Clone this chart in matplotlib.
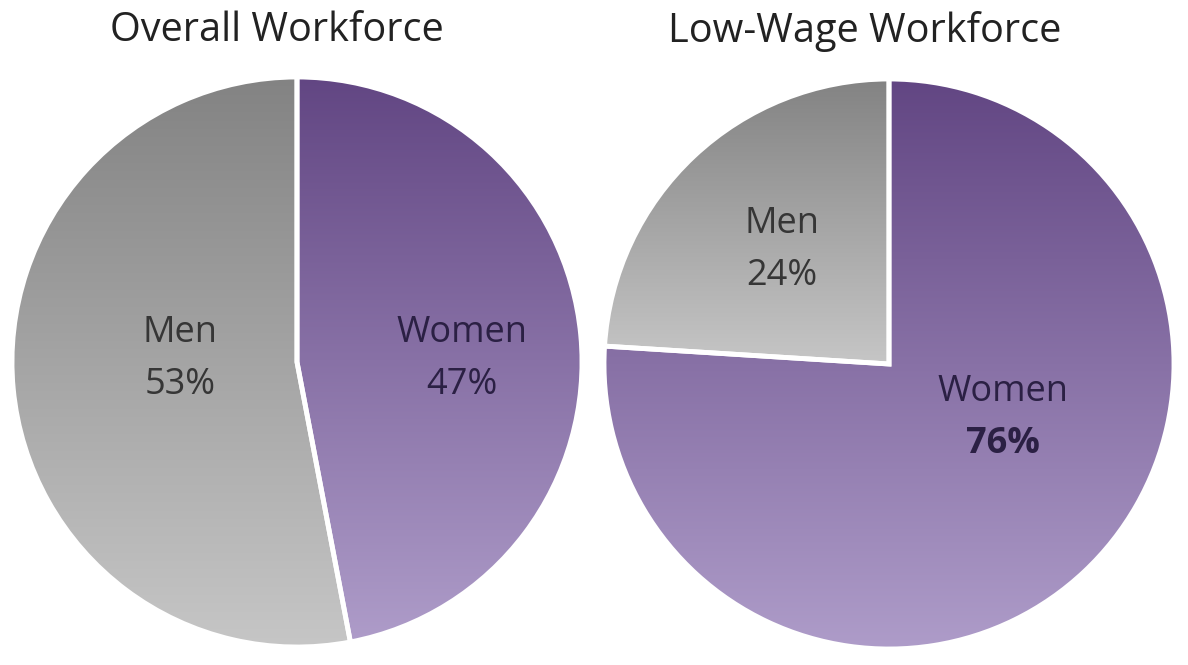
"""Two gradient-filled pies: women's share of the overall and low-wage workforce."""

import numpy as np
import matplotlib
matplotlib.use("Agg")
from matplotlib import pyplot as plt
from matplotlib.colors import LinearSegmentedColormap

titles = ["Overall Workforce", "Low-Wage Workforce"]
groups = ["Women", "Men"]
overall_share = [47, 53]
low_wage_share = [76, 24]
shares = [overall_share, low_wage_share]

plt.rcParams["font.family"] = ["Open Sans", "DejaVu Sans"]

W, H = 1188, 665
fig = plt.figure(figsize=(W / 100, H / 100), dpi=100)

purple = LinearSegmentedColormap.from_list("purple", ["#ae9cc9", "#624683"])
gray = LinearSegmentedColormap.from_list("gray", ["#c6c6c6", "#838383"])
cmaps = {"Women": purple, "Men": gray}

# pie centres / radius in pixels, measured from top-left
centres = [(297, 362), (889, 364)]
radius = 285
pad = 1.06

# label positions in pie units, plus text colours
label_pos = [
    {"Women": (0.58, 0.01), "Men": (-0.41, 0.01)},
    {"Women": (0.40, -0.19), "Men": (-0.375, 0.40)},
]
text_col = {"Women": "#2b2044", "Men": "#363636"}
title_x = [277, 865]

for i, (cx, cy) in enumerate(centres):
    half = radius * pad
    ax = fig.add_axes([(cx - half) / W, (H - cy - half) / H, 2 * half / W, 2 * half / H])
    ax.set_xlim(-pad, pad)
    ax.set_ylim(-pad, pad)
    ax.set_aspect("equal")
    ax.axis("off")

    wedges, _ = ax.pie(shares[i], startangle=90, counterclock=False, radius=1,
                       wedgeprops=dict(edgecolor="white", linewidth=3.5))
    grad = np.linspace(0, 1, 256).reshape(-1, 1)
    for name, w in zip(groups, wedges):
        ext = w.get_path().get_extents()
        w.set_facecolor("none")
        w.set_zorder(3)
        im = ax.imshow(grad, cmap=cmaps[name], origin="lower", aspect="auto",
                       extent=[ext.x0, ext.x1, ext.y0, ext.y1], zorder=2)
        im.set_clip_path(w)
    ax.set_xlim(-pad, pad)
    ax.set_ylim(-pad, pad)

    for name, val in zip(groups, shares[i]):
        x, y = label_pos[i][name]
        bold = (i == 1 and name == "Women")
        ax.text(x, y + 0.092, name, ha="center", va="center", fontsize=26,
                color=text_col[name], zorder=5)
        ax.text(x, y - 0.092, f"{val}%", ha="center", va="center", fontsize=26,
                color=text_col[name], fontweight="bold" if bold else "normal", zorder=5)

    fig.text(title_x[i] / W, 1 - 31 / H, titles[i], ha="center", va="center",
             fontsize=28.5, color="#222222")

fig.savefig("out.png", dpi=100, facecolor="white")
